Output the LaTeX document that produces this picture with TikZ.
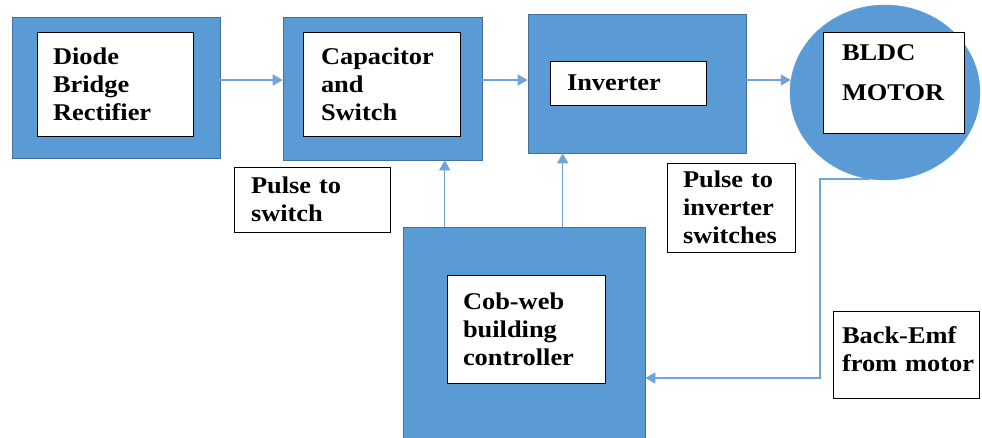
\documentclass[tikz,border=0pt]{standalone}
\usepackage{fontspec}
\setmainfont{Liberation Serif}[FakeStretch=1.1]
\usetikzlibrary{shapes.geometric}
\usetikzlibrary{positioning}
\usetikzlibrary{calc}
\usetikzlibrary{arrows.meta}
\definecolor{blockblue}{HTML}{5B9BD5}
\definecolor{blockedge}{HTML}{41719C}
\definecolor{linkblue}{HTML}{6FA3DA}

\begin{document}
\begin{tikzpicture}
		[
			x = 1pt, y = -1pt,
			block/.style = {rectangle, fill = blockblue, draw = blockedge, line width = 0.6pt, inner sep = 0pt},
			motorshape/.style = {ellipse, fill = blockblue, draw = blockblue, inner sep = 0pt, minimum width = 190pt, minimum height = 175pt},
			textbox/.style = {rectangle, fill = white, draw = black, line width = 0.9pt, align = left, inner sep = 0pt, font = \fontsize{24}{28}\selectfont\bfseries},
			link/.style = {draw = linkblue, line width = 1.3pt, -{Triangle[length = 10pt, width = 11pt]}},
		]
			\useasboundingbox (0,0) rectangle (982,437);
			%
			\node (diodeblock) [block, minimum width = 208pt, minimum height = 141pt] at (116,87.5) {};
			\node (diodebox) [textbox, minimum width = 156pt, minimum height = 104pt, text width = 124pt] at (115,84) {Diode\\Bridge\\Rectifier};
			%
			\node (capblock) [block, minimum width = 199pt, minimum height = 143pt] at (382.5,88.5) {};
			\node (capbox) [textbox, minimum width = 157pt, minimum height = 104pt, text width = 121pt] at (381.5,84) {Capacitor\\and\\Switch};
			%
			\node (invblock) [block, minimum width = 218pt, minimum height = 139pt] at (637,83.5) {};
			\node (invbox) [textbox, minimum width = 156pt, minimum height = 44pt, text width = 122pt] at (628,83) {Inverter};
			%
			\node (motor) [motorshape] at (885,92.5) {};
			\node (motorbox) [textbox, minimum width = 141pt, minimum height = 101pt, text width = 103pt] at (893.5,82.5) {BLDC\\[12pt]MOTOR\\[-8pt]\mbox{}};
			%
			\node (ctrlblock) [block, minimum width = 242pt, minimum height = 212pt] at (524,333) {};
			\node (ctrlbox) [textbox, minimum width = 158pt, minimum height = 108pt, text width = 126pt] at (526,329) {Cob-web\\building\\controller};
			%
			\node (switchnote) [textbox, minimum width = 156pt, minimum height = 65pt, text width = 122pt] at (312,199.5) {Pulse to\\switch};
			\node (invnote) [textbox, minimum width = 128pt, minimum height = 89pt, text width = 96pt] at (731,207.5) {Pulse to\\inverter\\switches};
			\node (emfnote) [textbox, minimum width = 146pt, minimum height = 87pt, text width = 128pt] at (906,354.5) {Back-Emf\\\mbox{from motor}\\[-17pt]\mbox{}};
			%
			\coordinate (flow) at (0,80);
			\coordinate (backturn) at (820,378);
			%
			\draw [link] (diodeblock.east |- flow) -- (capblock.west |- flow);
			\draw [link] (capblock.east |- flow) -- (invblock.west |- flow);
			\draw [link] (invblock.east |- flow) -- ($(motor.west |- flow) + (1,0)$);
			%
			\draw [link] ([xshift = 42pt]ctrlblock.north west) -- ([xshift = 42pt]ctrlblock.north west |- capblock.south);
			\draw [link] ([xshift = 160pt]ctrlblock.north west) -- ([xshift = 160pt]ctrlblock.north west |- invblock.south);
			\draw [link] (motor.260) -| (backturn) -- (backturn -| ctrlblock.east);
			%
		\end{tikzpicture}
\end{document}
